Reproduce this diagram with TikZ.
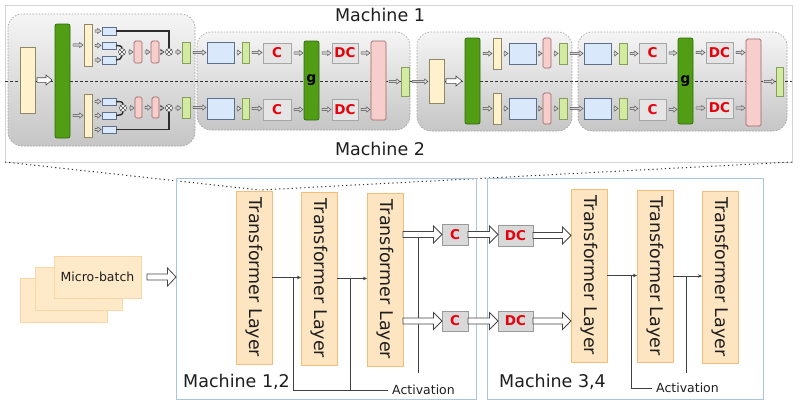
\documentclass[tikz,border=0pt]{standalone}
\usepackage{fontspec}
\setmainfont{DejaVu Sans}
\usepackage{graphicx}
\usetikzlibrary{calc,arrows.meta}
\definecolor{creamF}{HTML}{FFF2CC}
\definecolor{creamD}{HTML}{8F8768}
\definecolor{gbigF}{HTML}{519E14}
\definecolor{gbigD}{HTML}{2F6A0C}
\definecolor{gsmF}{HTML}{D3EBA0}
\definecolor{gsmD}{HTML}{869F5E}
\definecolor{bluF}{HTML}{DAE8FC}
\definecolor{bluD}{HTML}{5C6F8C}
\definecolor{pnkF}{HTML}{F8CECC}
\definecolor{pnkD}{HTML}{9A6666}
\definecolor{cRed}{HTML}{E8000B}
\definecolor{tlF}{HTML}{FDE5C2}
\definecolor{tlD}{HTML}{F4BE78}
\definecolor{mbF}{HTML}{FEEAC8}
\definecolor{mbD}{HTML}{F8D7A6}
\definecolor{machD}{HTML}{A9C6E0}
\definecolor{frameD}{HTML}{D4D4D4}
\definecolor{txt}{HTML}{1E1E1E}
\newcommand\mkbox[7]{\node[#2,minimum width={(#5)-(#3)},minimum height={(#6)-(#4)}] (#1) at ({((#3)+(#5))/2},{((#4)+(#6))/2}) {#7};}
\begin{document}
\begin{tikzpicture}[x=1pt,y=-1pt,
  bxbase/.style={draw, inner sep=0pt, outer sep=0pt, line width=0.7pt},
  cream/.style={bxbase, fill=creamF, draw=creamD},
  gbig/.style={bxbase, fill=gbigF, draw=gbigD, rounded corners=2pt, font=\bfseries\fontsize{14}{14}\selectfont, text=black},
  gsm/.style={bxbase, fill=gsmF, draw=gsmD},
  blu/.style={bxbase, fill=bluF, draw=bluD},
  pnk/.style={bxbase, fill=pnkF, draw=pnkD, rounded corners=1.5pt},
  cbox/.style={bxbase, fill=gray!20, draw=gray!70, font=\bfseries\fontsize{13.5}{14}\selectfont, text=cRed},
  cbot/.style={bxbase, fill=gray!30, draw=gray!80, line width=0.8pt, font=\bfseries\fontsize{13.5}{14}\selectfont, text=cRed},
  blockbg/.style={draw=gray!75, dash pattern=on 1.5pt off 1.5pt, line width=0.6pt, rounded corners=14pt, top color=gray!8, bottom color=gray!45, inner sep=0pt, outer sep=0pt},
  otimes/.style={circle, draw=gray!60!black, fill=white, line width=0.6pt, inner sep=0pt, minimum size=7pt,
    path picture={\draw[gray!60!black, line width=0.6pt] (path picture bounding box.north west) -- (path picture bounding box.south east) (path picture bounding box.north east) -- (path picture bounding box.south west);}},
  harrow/.style n args={5}{to path={let \p1=(\tikztostart), \p2=(\tikztotarget) in
    (\x1+#4,\y1+#1) -- (\x2-#5-#3,\y1+#1) -- (\x2-#5-#3,\y1+#2) -- (\x2-#5,\y1) -- (\x2-#5-#3,\y1-#2) -- (\x2-#5-#3,\y1-#1) -- (\x1+#4,\y1-#1) -- cycle}},
  sarr/.style={harrow={1.1pt}{2.6pt}{3.5pt}{3pt}{1pt}, fill=gray!35, draw=gray!55!black, line width=0.45pt},
  warr/.style={harrow={2.3pt}{5pt}{6pt}{2pt}{3pt}, fill=white, draw=gray!60!black, line width=0.6pt},
  barr/.style={harrow={3pt}{8.5pt}{8.5pt}{0pt}{0pt}, fill=white, draw=gray!55!black, line width=0.8pt},
  mbarr/.style={harrow={3pt}{9pt}{8.5pt}{6pt}{0pt}, fill=white, draw=gray!55!black, line width=0.8pt},
  bl/.style={draw=gray!35!black, line width=1.4pt},
  tarr/.style={draw=black!75, line width=0.6pt, -{Stealth[length=4pt,width=3.5pt]}},
  thinl/.style={draw=black!75, line width=0.6pt},
  midline/.style={draw=gray!40!black, line width=0.6pt, dash pattern=on 3pt off 2pt},
  zoomline/.style={draw=black!80, line width=1pt, dash pattern=on 1.2pt off 3pt},
  mach/.style={draw=machD, line width=0.9pt, inner sep=0pt, outer sep=0pt},
  tl/.style={draw=tlD, fill=tlF, line width=0.9pt, inner sep=0pt, outer sep=0pt, text=txt, font=\fontsize{17.5}{18}\selectfont},
  mbs/.style={draw=mbD, fill=mbF, line width=0.8pt, inner sep=0pt, outer sep=0pt, text=txt, font=\fontsize{12.5}{14}\selectfont},
  mlab/.style={inner sep=0pt, text=txt, font=\fontsize{17.5}{18}\selectfont},
  actlab/.style={inner sep=0pt, text=txt, font=\fontsize{12.5}{14}\selectfont}
]
\fill[white] (0,0) rectangle (800,405);
\useasboundingbox (0,0) rectangle (800,405);

% ---------- top panel ----------
\mkbox{frame}{draw=frameD, line width=0.8pt, inner sep=0pt, outer sep=0pt}{5}{5}{792}{162}{}
\mkbox{bg1}{blockbg}{8}{14}{195}{146}{}
\mkbox{bg2}{blockbg}{197}{32}{410}{130}{}
\mkbox{bg3}{blockbg}{417}{32}{572}{131}{}
\mkbox{bg4}{blockbg}{578}{32}{787}{131}{}
\draw[midline] (frame.west |- 0,81) -- (frame.east |- 0,81);

\node[mlab, anchor=base] (m1) at (380,21) {Machine 1};
\node[mlab, anchor=base] (m2) at (380,155) {Machine 2};

% block 1
\mkbox{cb1}{cream}{20}{47}{35}{113}{}
\mkbox{gb1}{gbig}{55}{24}{70}{138}{}
\mkbox{cs1t}{cream}{84}{24}{92}{66}{}
\mkbox{cs1b}{cream}{84}{94}{92}{137}{}
\mkbox{b1t1}{blu}{102}{27}{116}{35}{}
\mkbox{b1t2}{blu}{102}{42}{116}{49}{}
\mkbox{b1t3}{blu}{102}{56}{116}{64}{}
\mkbox{b1b1}{blu}{102}{98}{116}{105}{}
\mkbox{b1b2}{blu}{102}{112}{116}{119}{}
\mkbox{b1b3}{blu}{102}{126}{116}{133}{}
\mkbox{p1t}{pnk}{134}{41}{142}{63}{}
\mkbox{p2t}{pnk}{151}{41}{159}{63}{}
\mkbox{p1b}{pnk}{135}{97}{142}{118}{}
\mkbox{p2b}{pnk}{152}{97}{159}{118}{}
\mkbox{g1t}{gsm}{182}{42}{190}{63}{}
\mkbox{g1b}{gsm}{182}{97}{190}{118}{}
\draw[bl] (b1t1.east) -| (169,48);
\draw[bl] (b1b3.east) -| (169,112);
\node[otimes] (o1t) at (122,52) {};
\node[otimes] (o2t) at (169,52) {};
\node[otimes] (o1b) at (123,108) {};
\node[otimes] (o2b) at (169,108) {};
\draw[bl] (b1t2.east) to[out=0,in=90] (o1t.north);
\draw[bl] (b1t3.east) to[out=0,in=-90] (o1t.south);
\draw[bl] (b1b1.east) to[out=0,in=90] (o1b.north);
\draw[bl] (b1b2.east) to[out=0,in=-90] (o1b.south);

\draw[warr] (cb1.east) to (gb1.west |- cb1.east);
\draw[sarr] (gb1.east |- cs1t.west) to (cs1t.west);
\draw[sarr] (gb1.east |- cs1b.west) to (cs1b.west);
\foreach \b in {b1t1,b1t2,b1t3} {\draw[sarr] (cs1t.east |- \b.west) to (\b.west);}
\foreach \b in {b1b1,b1b2,b1b3} {\draw[sarr] (cs1b.east |- \b.west) to (\b.west);}
\foreach \s in {t,b} {
  \draw[sarr] (o1\s.east) to (p1\s.west |- o1\s.east);
  \draw[sarr] (p1\s.east) to (p2\s.west |- p1\s.east);
  \draw[sarr] (p2\s.east |- o2\s.west) to (o2\s.west);
  \draw[sarr] (o2\s.east) to (g1\s.west |- o2\s.east);
}

% block 2
\mkbox{b2t}{blu}{207}{42}{234}{63}{}
\mkbox{b2b}{blu}{207}{98}{234}{119}{}
\mkbox{s2t}{gsm}{242}{42}{249}{63}{}
\mkbox{s2b}{gsm}{242}{98}{249}{119}{}
\mkbox{c2t}{cbox}{263}{43}{291}{63}{C}
\mkbox{c2b}{cbox}{263}{99}{291}{120}{C}
\mkbox{G2}{gbig}{304}{41}{319}{120}{g}
\mkbox{d2t}{cbox}{332}{43}{358}{63}{DC}
\mkbox{d2b}{cbox}{332}{99}{358}{120}{DC}
\mkbox{P2}{pnk}{371}{41}{386}{120}{}
\mkbox{o2}{gsm}{401}{67}{409}{96}{}

% block 3
\mkbox{cb3}{cream}{429}{59}{444}{103}{}
\mkbox{gb3}{gbig}{465}{38}{480}{124}{}
\mkbox{cs3t}{cream}{493}{38}{501}{69}{}
\mkbox{cs3b}{cream}{493}{93}{501}{124}{}
\mkbox{b3t}{blu}{509}{43}{536}{64}{}
\mkbox{b3b}{blu}{509}{98}{536}{119}{}
\mkbox{p3t}{pnk}{543}{38}{551}{68}{}
\mkbox{p3b}{pnk}{543}{93}{551}{124}{}
\mkbox{s3t}{gsm}{559}{43}{567}{64}{}
\mkbox{s3b}{gsm}{559}{98}{567}{119}{}

% block 4
\mkbox{b4t}{blu}{584}{43}{611}{64}{}
\mkbox{b4b}{blu}{584}{98}{611}{119}{}
\mkbox{s4t}{gsm}{619}{43}{627}{64}{}
\mkbox{s4b}{gsm}{619}{98}{627}{119}{}
\mkbox{c4t}{cbox}{639}{43}{666}{63}{C}
\mkbox{c4b}{cbox}{639}{99}{666}{120}{C}
\mkbox{G4}{gbig}{678}{38}{693}{124}{g}
\mkbox{d4t}{cbox}{706}{42}{733}{63}{DC}
\mkbox{d4b}{cbox}{706}{98}{733}{118}{DC}
\mkbox{P4}{pnk}{746}{39}{761}{126}{}
\mkbox{o4}{gsm}{776}{67}{783}{96}{}

\foreach \s in {t,b} {
  \draw[sarr] (g1\s.east) to (b2\s.west |- g1\s.east);
  \draw[sarr] (b2\s.east) to (s2\s.west |- b2\s.east);
  \draw[sarr] (s2\s.east) to (c2\s.west |- s2\s.east);
  \draw[sarr] (c2\s.east) to (G2.west |- c2\s.east);
  \draw[sarr] (G2.east |- d2\s.west) to (d2\s.west);
  \draw[sarr] (d2\s.east) to (P2.west |- d2\s.east);
  \draw[sarr] (gb3.east |- cs3\s.west) to (cs3\s.west);
  \draw[sarr] (cs3\s.east |- b3\s.west) to (b3\s.west);
  \draw[sarr] (b3\s.east) to (p3\s.west |- b3\s.east);
  \draw[sarr] (p3\s.east |- s3\s.west) to (s3\s.west);
  \draw[sarr] (s3\s.east) to (b4\s.west |- s3\s.east);
  \draw[sarr] (b4\s.east) to (s4\s.west |- b4\s.east);
  \draw[sarr] (s4\s.east) to (c4\s.west |- s4\s.east);
  \draw[sarr] (c4\s.east) to (G4.west |- c4\s.east);
  \draw[sarr] (G4.east |- d4\s.west) to (d4\s.west);
  \draw[sarr] (d4\s.east) to (P4.west |- d4\s.east);
}
\draw[sarr] (P2.east |- o2.west) to (o2.west);
\draw[sarr] (o2.east) to (cb3.west |- o2.east);
\draw[warr] (cb3.east) to (gb3.west |- cb3.east);
\draw[sarr] (P4.east |- o4.west) to (o4.west);

% ---------- bottom panel ----------
\coordinate (zoomtip) at (260,190);
\draw[zoomline] (frame.south west) -- (zoomtip);
\draw[zoomline] (frame.south east) -- (zoomtip);

\mkbox{M12}{mach}{176}{178}{476}{399}{}
\mkbox{M34}{mach}{487}{178}{763}{399}{}
\node[mlab, anchor=base west] (l12) at (183,387) {Machine 1,2};
\node[mlab, anchor=base west] (l34) at (499,387) {Machine 3,4};

\mkbox{TL1}{tl}{236}{191}{272}{364}{\rotatebox{-90}{Transformer Layer}}
\mkbox{TL2}{tl}{301}{192}{337}{365}{\rotatebox{-90}{Transformer Layer}}
\mkbox{TL3}{tl}{367}{193}{403}{366}{\rotatebox{-90}{Transformer Layer}}
\mkbox{TL4}{tl}{571}{189}{607}{362}{\rotatebox{-90}{Transformer Layer}}
\mkbox{TL5}{tl}{637}{190}{673}{362}{\rotatebox{-90}{Transformer Layer}}
\mkbox{TL6}{tl}{702}{191}{738}{363}{\rotatebox{-90}{Transformer Layer}}

\mkbox{C1}{cbot}{442}{224}{468}{245}{C}
\mkbox{C2}{cbot}{442}{311}{468}{331}{C}
\mkbox{DC1}{cbot}{498}{225}{533}{246}{DC}
\mkbox{DC2}{cbot}{498}{311}{533}{331}{DC}

\node[actlab, anchor=west] (act1) at (392,390) {Activation};
\node[actlab, anchor=west] (act2) at (656,388) {Activation};

% activation taps
\coordinate (j1) at ($(TL1.east)!0.75!(TL2.west |- TL1.east)$);
\coordinate (j2) at ($(TL2.east)!0.43!(TL3.west |- TL2.east)$);
\coordinate (j3) at ($(TL3.east |- C1.west)!0.38!(C1.west)$);
\coordinate (j3e) at (j3 |- 0,373);
\coordinate (k1) at ($(TL4.east)!0.80!(TL5.west |- TL4.east)$);
\coordinate (k2) at ($(TL5.east)!0.45!(TL6.west |- TL5.east)$);
\coordinate (k2e) at (k2 |- 0,373);
\draw[thinl] (j1) |- ($(act1.west)+(-4,0)$);
\draw[thinl] (j2) -- (j2 |- act1.west);
\draw[thinl] ($(j3)+(0,3)$) -- (j3e);
\draw[thinl] (k1) |- ($(act2.west)+(-4,0)$);
\draw[thinl] (k2) -- (k2e);

\draw[tarr] (TL1.east) -- (TL2.west |- TL1.east);
\draw[tarr] (TL2.east) -- (TL3.west |- TL2.east);
\draw[tarr] (TL4.east) -- (TL5.west |- TL4.east);
\draw[tarr] (TL5.east) -- (TL6.west |- TL5.east);

\draw[barr] (TL3.east |- C1.west) to (C1.west);
\draw[barr] (TL3.east |- C2.west) to (C2.west);
\draw[barr] (C1.east) to (DC1.west |- C1.east);
\draw[barr] (C2.east) to (DC2.west |- C2.east);
\draw[barr] (DC1.east) to (TL4.west |- DC1.east);
\draw[barr] (DC2.east) to (TL4.west |- DC2.east);

% micro-batches
\mkbox{mb3}{mbs}{20}{278}{107}{322}{}
\mkbox{mb2}{mbs}{35}{267}{122}{310}{}
\mkbox{mb1}{mbs}{54}{256}{141}{298}{Micro-batch}
\draw[mbarr] (mb1.east) to (M12.west |- mb1.east);
\end{tikzpicture}
\end{document}
